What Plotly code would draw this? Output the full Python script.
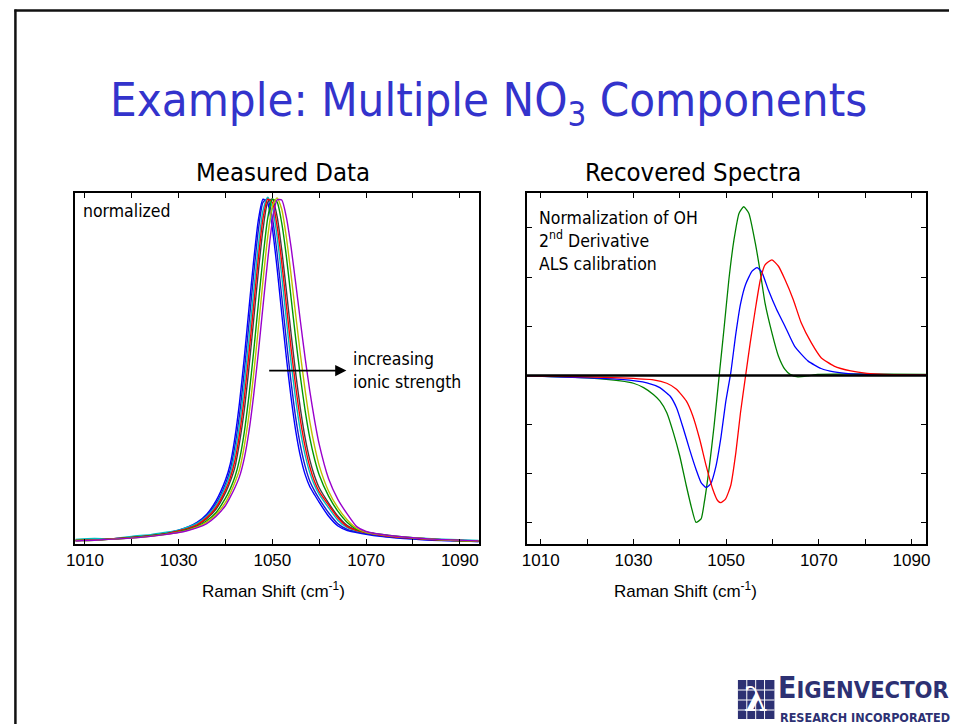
import plotly.graph_objects as go

W, H = 953, 724

# ---- Measured Data: normalized NO3 Raman band, several ionic strengths ----
raman_x = [1008, 1012, 1016, 1020, 1024, 1027, 1030, 1032, 1034, 1036, 1038, 1040,
           1041, 1042, 1043, 1044, 1045, 1046, 1047, 1048, 1049, 1050, 1051, 1052,
           1053, 1054, 1055, 1056, 1057, 1058, 1059, 1060, 1062, 1064, 1066, 1068,
           1070, 1073, 1076, 1080, 1084, 1088, 1094]

meas_blue_1 = [0.010, 0.012, 0.015, 0.020, 0.025, 0.030, 0.040, 0.049, 0.063, 0.086, 0.125, 0.185,
               0.230, 0.306, 0.409, 0.537, 0.678, 0.816, 0.933, 0.994, 0.983, 0.910, 0.796, 0.664,
               0.536, 0.421, 0.325, 0.252, 0.200, 0.165, 0.142, 0.120, 0.080, 0.052, 0.039, 0.033,
               0.028, 0.022, 0.018, 0.014, 0.011, 0.009, 0.007]
meas_blue_2 = [0.010, 0.012, 0.015, 0.019, 0.024, 0.030, 0.039, 0.048, 0.061, 0.082, 0.118, 0.174,
               0.214, 0.282, 0.374, 0.497, 0.635, 0.776, 0.904, 0.985, 0.995, 0.940, 0.839, 0.713,
               0.585, 0.466, 0.362, 0.283, 0.224, 0.181, 0.153, 0.130, 0.090, 0.058, 0.042, 0.035,
               0.030, 0.024, 0.019, 0.015, 0.012, 0.010, 0.007]
meas_cyan = [0.013, 0.016, 0.015, 0.022, 0.027, 0.033, 0.040, 0.049, 0.060, 0.080, 0.112, 0.166,
             0.202, 0.261, 0.345, 0.458, 0.589, 0.728, 0.860, 0.962, 1.000, 0.971, 0.887, 0.772,
             0.645, 0.522, 0.415, 0.324, 0.256, 0.205, 0.169, 0.143, 0.104, 0.068, 0.047, 0.038,
             0.033, 0.027, 0.022, 0.018, 0.015, 0.013, 0.010]
meas_red = [0.010, 0.012, 0.015, 0.019, 0.024, 0.029, 0.038, 0.045, 0.056, 0.076, 0.106, 0.156,
            0.190, 0.240, 0.317, 0.421, 0.548, 0.686, 0.823, 0.938, 0.994, 0.985, 0.917, 0.812,
            0.687, 0.563, 0.452, 0.356, 0.280, 0.222, 0.180, 0.151, 0.112, 0.075, 0.050, 0.039,
            0.033, 0.026, 0.021, 0.017, 0.013, 0.011, 0.008]
meas_gray = [0.010, 0.012, 0.014, 0.019, 0.024, 0.029, 0.037, 0.044, 0.054, 0.073, 0.101, 0.148,
             0.180, 0.221, 0.293, 0.386, 0.508, 0.645, 0.784, 0.907, 0.985, 0.995, 0.945, 0.848,
             0.729, 0.606, 0.490, 0.388, 0.305, 0.242, 0.196, 0.162, 0.118, 0.080, 0.053, 0.040,
             0.034, 0.027, 0.022, 0.017, 0.014, 0.011, 0.008]
meas_green = [0.010, 0.011, 0.014, 0.018, 0.023, 0.028, 0.035, 0.042, 0.051, 0.067, 0.091, 0.132,
              0.159, 0.193, 0.244, 0.322, 0.427, 0.554, 0.692, 0.826, 0.939, 0.994, 0.986, 0.925,
              0.828, 0.709, 0.590, 0.480, 0.384, 0.305, 0.245, 0.199, 0.138, 0.094, 0.062, 0.042,
              0.034, 0.028, 0.023, 0.018, 0.014, 0.011, 0.009]
meas_olive = [0.010, 0.011, 0.014, 0.017, 0.022, 0.027, 0.034, 0.040, 0.049, 0.063, 0.085, 0.120,
              0.146, 0.177, 0.215, 0.282, 0.372, 0.489, 0.622, 0.759, 0.885, 0.974, 0.998, 0.965,
              0.883, 0.775, 0.658, 0.545, 0.442, 0.352, 0.282, 0.226, 0.152, 0.104, 0.069, 0.045,
              0.034, 0.027, 0.022, 0.018, 0.014, 0.011, 0.009]
meas_purple = [0.009, 0.011, 0.014, 0.017, 0.022, 0.027, 0.033, 0.039, 0.047, 0.059, 0.080, 0.111,
               0.135, 0.162, 0.195, 0.247, 0.324, 0.428, 0.551, 0.686, 0.818, 0.931, 0.992, 0.992,
               0.941, 0.855, 0.750, 0.640, 0.535, 0.440, 0.357, 0.287, 0.188, 0.128, 0.086, 0.050,
               0.036, 0.028, 0.023, 0.018, 0.014, 0.012, 0.009]

# ---- Recovered Spectra: ALS components (arbitrary units) ----
rec_green_x = [1007, 1020.1, 1027.2, 1030, 1032.2, 1034.3, 1035.7, 1037.2, 1038.6, 1040, 1041.4,
               1042.5, 1043.5, 1044.6, 1045.3, 1046.4, 1047.4, 1048.5, 1049.6, 1050.6, 1051.7,
               1052.8, 1053.8, 1054.9, 1056.3, 1057.4, 1058.4, 1059.9, 1061.3, 1062.7, 1063.8,
               1065.5, 1067.7, 1069.8, 1076.9, 1093.2]
rec_green_y = [-0.01, -0.05, -0.11, -0.16, -0.25, -0.39, -0.52, -0.76, -1.16, -1.64, -2.24,
               -2.68, -2.99, -2.92, -2.58, -1.84, -1.03, -0.01, 1.00, 1.95, 2.76,
               3.30, 3.43, 3.30, 2.69, 2.08, 1.47, 0.86, 0.39, 0.12, 0.02,
               -0.03, -0.01, 0.02, 0.03, 0.02]

rec_blue_x = [1007, 1020.1, 1027.2, 1032.9, 1035.7, 1037.9, 1039.3, 1040.7, 1042.1, 1043.5,
              1044.6, 1045.7, 1046.7, 1047.8, 1048.9, 1049.9, 1051.0, 1052.1, 1053.1, 1054.2,
              1055.6, 1056.7, 1057.7, 1059.1, 1060.9, 1062.7, 1064.8, 1067.7, 1070.5, 1073.3,
              1076.9, 1080.4, 1093.2]
rec_blue_y = [-0.01, -0.05, -0.08, -0.15, -0.25, -0.42, -0.66, -1.06, -1.50, -1.91,
              -2.18, -2.28, -2.20, -1.85, -1.25, -0.55, 0.05, 0.85, 1.45, 1.85,
              2.12, 2.19, 2.10, 1.74, 1.34, 1.00, 0.59, 0.29, 0.14, 0.07,
              0.03, 0.02, 0.01]

rec_red_x = [1007, 1020.1, 1027.2, 1034.3, 1037.2, 1039.3, 1041.4, 1042.8, 1044.3, 1045.7,
             1047.1, 1048.2, 1048.9, 1049.9, 1051.0, 1052.1, 1053.1, 1054.2, 1055.2, 1056.3,
             1057.4, 1058.4, 1059.9, 1061.3, 1062.7, 1064.5, 1066.2, 1068.4, 1070.5, 1073.3,
             1076.9, 1080.4, 1084.0, 1093.2]
rec_red_y = [-0.01, -0.03, -0.05, -0.09, -0.16, -0.28, -0.52, -0.82, -1.30, -1.84,
             -2.31, -2.55, -2.59, -2.51, -2.24, -1.57, -0.76, -0.01, 0.66, 1.34,
             1.95, 2.25, 2.35, 2.22, 1.95, 1.54, 1.07, 0.66, 0.36, 0.19,
             0.09, 0.04, 0.02, 0.01]

x_tick_vals = [1010, 1030, 1050, 1070, 1090]
x_tick_text = ["1010", "1030", "1050", "1070", "1090"]
rec_y_ticks = [-3, -2, -1, 0, 1, 2, 3]

TITLE_BLUE = "#3333cc"
NAVY = "#2d3173"
COND = "DejaVu Sans Condensed, DejaVu Sans, sans-serif"
ARIAL = "Liberation Sans, Arial, sans-serif"


def px(x):
    return x / W


def py(y):
    return 1 - y / H


fig = go.Figure()

measured = [
    (meas_blue_1, "#0000ff"),
    (meas_blue_2, "#1a1acc"),
    (meas_cyan, "#00bfbf"),
    (meas_gray, "#404040"),
    (meas_red, "#ff0000"),
    (meas_green, "#009900"),
    (meas_olive, "#bfbf00"),
    (meas_purple, "#9900cc"),
]
for vals, col in measured:
    fig.add_trace(go.Scatter(x=raman_x, y=vals, mode="lines", xaxis="x", yaxis="y",
                             line=dict(color=col, width=1.4, shape="spline", smoothing=0.6),
                             hoverinfo="skip", showlegend=False))

recovered = [
    (rec_green_x, rec_green_y, "#008000"),
    (rec_blue_x, rec_blue_y, "#0000ff"),
    (rec_red_x, rec_red_y, "#ff0000"),
]
for xs, ys, col in recovered:
    fig.add_trace(go.Scatter(x=xs, y=ys, mode="lines", xaxis="x2", yaxis="y2",
                             line=dict(color=col, width=1.3, shape="spline", smoothing=0.5),
                             hoverinfo="skip", showlegend=False))

xaxis_common = dict(
    tickvals=x_tick_vals, ticktext=x_tick_text, ticks="inside", ticklen=5, tickwidth=1.2,
    tickcolor="black", showline=True, linewidth=2, linecolor="black", mirror="ticks",
    minor=dict(tick0=1010, dtick=10, ticks="inside", ticklen=5, tickwidth=1.2, tickcolor="black"),
    showgrid=False, zeroline=False, tickfont=dict(family=ARIAL, size=17, color="black"),
)

fig.update_layout(
    width=W, height=H, margin=dict(l=0, r=0, t=0, b=0),
    paper_bgcolor="white", plot_bgcolor="white",
    xaxis=dict(domain=[px(67), px(477)], range=[1007.9, 1094.2], anchor="y", **xaxis_common),
    yaxis=dict(domain=[py(544), py(193)], range=[0, 1.012], anchor="x",
               showticklabels=False, ticks="", showline=True, linewidth=2, linecolor="black",
               mirror=True, showgrid=False, zeroline=False),
    xaxis2=dict(domain=[px(525), px(930)], range=[1007.0, 1093.2], anchor="y2", **xaxis_common),
    yaxis2=dict(domain=[py(544), py(193)], range=[-3.43, 3.71], anchor="x2",
                tickvals=rec_y_ticks, showticklabels=False, ticks="inside", ticklen=5,
                tickwidth=1.2, tickcolor="black", showline=True, linewidth=2, linecolor="black",
                mirror="ticks", showgrid=False, zeroline=False),
    showlegend=False,
)

# zero reference of the recovered components
fig.add_shape(type="line", xref="x2 domain", yref="y2", x0=0, x1=1, y0=0, y1=0,
              line=dict(color="black", width=2.5), layer="above")

# slide frame
fig.add_shape(type="line", xref="paper", yref="paper", x0=px(5.5), x1=1, y0=py(10.5), y1=py(10.5),
              line=dict(color="#111111", width=2.5))
fig.add_shape(type="line", xref="paper", yref="paper", x0=px(6.5), x1=px(6.5), y0=py(9.5), y1=0,
              line=dict(color="#111111", width=2.5))

ann = []
ann.append(dict(text="Example: Multiple NO<sub>3</sub> Components", x=px(486), y=py(103),
                xref="paper", yref="paper", showarrow=False, xanchor="center", yanchor="middle",
                font=dict(family=COND, size=47, color=TITLE_BLUE)))
ann.append(dict(text="Measured Data", x=px(278), y=py(172), xref="paper", yref="paper",
                showarrow=False, xanchor="center", yanchor="middle",
                font=dict(family=COND, size=25.5, color="black")))
ann.append(dict(text="Recovered Spectra", x=px(693), y=py(172), xref="paper", yref="paper",
                showarrow=False, xanchor="center", yanchor="middle",
                font=dict(family=COND, size=25.5, color="black")))
for cx in (268, 686):
    ann.append(dict(text="Raman Shift (cm<sup>-1</sup>)", x=px(cx), y=py(590), xref="paper",
                    yref="paper", showarrow=False, xanchor="center", yanchor="middle",
                    font=dict(family=ARIAL, size=17, color="black")))
ann.append(dict(text="normalized", x=px(73), y=py(211), xref="paper", yref="paper",
                showarrow=False, xanchor="left", yanchor="middle",
                font=dict(family=COND, size=17.5, color="black")))
ann.append(dict(text="increasing<br>ionic strength", x=px(347), y=py(370), xref="paper",
                yref="paper", showarrow=False, xanchor="left", yanchor="middle", align="left",
                font=dict(family=COND, size=17.5, color="black")))
ann.append(dict(text="", x=1065.8, y=0.50, xref="x", yref="y", ax=1049.0, ay=0.50,
                axref="x", ayref="y", showarrow=True, arrowhead=2, arrowsize=1.4,
                arrowwidth=1.6, arrowcolor="black"))
ann.append(dict(text="Normalization of OH<br>2<sup>nd</sup> Derivative<br>ALS calibration",
                x=px(535), y=py(241), xref="paper", yref="paper", showarrow=False,
                xanchor="left", yanchor="middle", align="left",
                font=dict(family=COND, size=17.5, color="black")))

# company mark, lower right
fig.add_shape(type="rect", xref="paper", yref="paper", x0=px(739), x1=px(776), y0=py(719),
              y1=py(680), fillcolor=NAVY, line=dict(width=0))
for gx in (748, 757, 766):
    fig.add_shape(type="line", xref="paper", yref="paper", x0=px(gx), x1=px(gx), y0=py(719),
                  y1=py(680), line=dict(color="white", width=1))
for gy in (690, 700, 710):
    fig.add_shape(type="line", xref="paper", yref="paper", x0=px(739), x1=px(776), y0=py(gy),
                  y1=py(gy), line=dict(color="white", width=1))
ann.append(dict(text="<b>λ</b>", x=px(757), y=py(699), xref="paper", yref="paper",
                showarrow=False, xanchor="center", yanchor="middle",
                font=dict(family="DejaVu Serif, serif", size=34, color="white")))
ann.append(dict(text="<b><span style='font-size:30px'>E</span>IGENVECTOR</b>", x=px(778),
                y=py(707), xref="paper", yref="paper", showarrow=False, xanchor="left",
                yanchor="bottom", font=dict(family=COND, size=23.5, color=NAVY)))
ann.append(dict(text="<b>RESEARCH INCORPORATED</b>", x=px(780), y=py(708), xref="paper",
                yref="paper", showarrow=False, xanchor="left", yanchor="top",
                font=dict(family=COND, size=12.5, color=NAVY)))

fig.update_layout(annotations=ann)

# keep the graph flush with the top-left corner of the page
pin_js = (
    "document.body.style.margin='0';"
    "document.body.style.overflow='hidden';"
)
fig.write_html("out.html", post_script=pin_js)
